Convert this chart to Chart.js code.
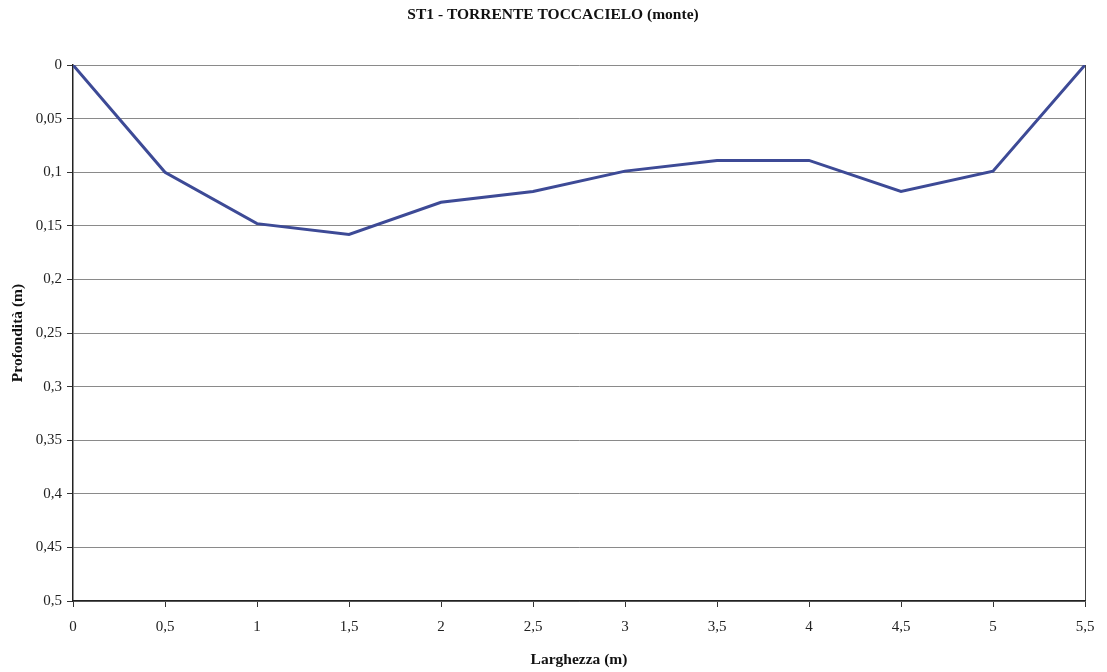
<!DOCTYPE html>
<html>
<head>
<meta charset="utf-8">
<script src="https://cdn.jsdelivr.net/npm/chart.js@4/dist/chart.umd.min.js"></script>
<style>
html,body{margin:0;padding:0;background:#fff;}
#wrap{width:1107px;height:672px;}
</style>
</head>
<body>
<div id="wrap"><canvas id="c" width="1107" height="672"></canvas></div>
<script>
const larghezza = [0, 0.5, 1, 1.5, 2, 2.5, 3, 3.5, 4, 4.5, 5, 5.5];
const profondita = [0, 0.1, 0.148, 0.158, 0.128, 0.118, 0.099, 0.089, 0.089, 0.118, 0.099, 0];
const xTickLabels = ['0','0,5','1','1,5','2','2,5','3','3,5','4','4,5','5','5,5'];
const yTickLabels = ['0','0,05','0,1','0,15','0,2','0,25','0,3','0,35','0,4','0,45','0,5'];
const titleText = 'ST1 - TORRENTE TOCCACIELO (monte)';
const xTitle = 'Larghezza (m)';
const yTitle = 'Profondità (m)';

const serif = '"Liberation Serif", "DejaVu Serif", serif';
const points = larghezza.map((x, i) => ({x: x, y: profondita[i]}));

const topTitle = {
  id: 'topTitle',
  afterDraw(chart) {
    const ctx = chart.ctx;
    ctx.save();
    ctx.fillStyle = '#111';
    ctx.font = 'bold 15.5px ' + serif;
    ctx.textAlign = 'center';
    ctx.textBaseline = 'middle';
    ctx.fillText(titleText, 553, 15);
    ctx.restore();
  }
};

new Chart(document.getElementById('c'), {
  type: 'line',
  data: {
    datasets: [{
      data: points,
      borderColor: '#3d4a96',
      borderWidth: 3,
      pointRadius: 0,
      tension: 0,
      fill: false
    }]
  },
  plugins: [topTitle],
  options: {
    responsive: false,
    animation: false,
    devicePixelRatio: 1,
    layout: {padding: {left: 9, right: 22, top: 65, bottom: 0}},
    plugins: {
      legend: {display: false},
      tooltip: {enabled: false},
      title: {display: false}
    },
    scales: {
      x: {
        type: 'linear',
        min: 0, max: 5.5,
        afterBuildTicks: (s) => { s.ticks = larghezza.map(v => ({value: v})); },
        afterFit: (s) => { s.height = 71; },
        ticks: {
          color: '#222',
          font: {family: serif, size: 15},
          padding: 11,
          maxRotation: 0,
          autoSkip: false,
          callback: (v, i) => xTickLabels[i]
        },
        grid: {
          color: (ctx) => (ctx.index === larghezza.length - 1 ? '#444' : 'rgba(0,0,0,0)'),
          tickColor: '#333',
          tickLength: 6,
          lineWidth: 1
        },
        border: {color: '#222', width: 1.5},
        title: {
          display: true,
          text: xTitle,
          color: '#111',
          font: {family: serif, size: 15.5, weight: 'bold'},
          padding: {top: 0, bottom: 3}
        }
      },
      y: {
        type: 'linear',
        reverse: true,
        min: 0, max: 0.5,
        afterBuildTicks: (s) => { s.ticks = yTickLabels.map((t, i) => ({value: i * 0.05})); },
        afterFit: (s) => { s.width = 64; },
        ticks: {
          color: '#222',
          font: {family: serif, size: 15},
          padding: 5,
          autoSkip: false,
          callback: (v, i) => yTickLabels[i]
        },
        grid: {
          color: '#8a8a8a',
          tickColor: '#333',
          tickLength: 6,
          lineWidth: 1
        },
        border: {color: '#222', width: 1.5},
        title: {
          display: true,
          text: yTitle,
          color: '#111',
          font: {family: serif, size: 15.5, weight: 'bold'},
          padding: {top: 0, bottom: 0}
        }
      }
    }
  }
});
</script>
</body>
</html>
